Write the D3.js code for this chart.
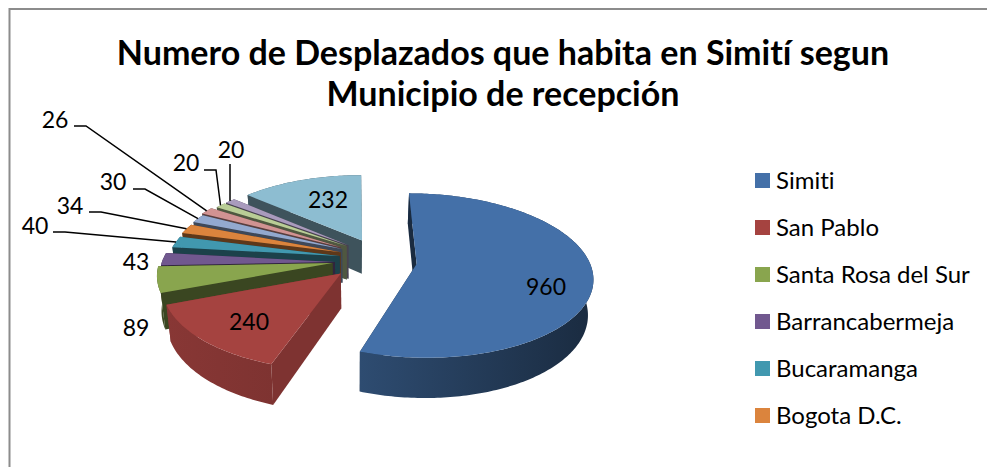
<!DOCTYPE html>
<html>
<head>
<meta charset="utf-8">
<script src="https://cdn.jsdelivr.net/npm/d3@7"></script>
<style>
    html, body { margin: 0; padding: 0; background: #fff; }
    svg { display: block; }
    text { font-family: Lato, "Noto Sans", sans-serif; fill: #000; font-variant-ligatures: none; }
</style>
</head>
<body>
<div id="map"></div>
<script>
var titleLines = ["Numero de Desplazados que habita en Simití segun", "Municipio de recepción"];
var categories = ["Simiti", "San Pablo", "Santa Rosa del Sur", "Barrancabermeja", "Bucaramanga", "Bogota D.C."];
var values = [960, 240, 89, 43, 40, 34, 30, 26, 20, 20, 232];
var colors = ["#4470a8", "#a54340", "#89a54e", "#71588f", "#4198af", "#db843d", "#93a9cf", "#d19392", "#b9cd96", "#a99bbd", "#8dbdd1"];

// how far each slice is pulled out of the pie, in pie radii
var explodeU = [0.355, -0.08, -0.13, -0.116, -0.09, -0.085, -0.076, -0.083, -0.05, -0.04, 0.042];
var explodeV = [-0.025, -0.14, -0.0125, 0, 0.075, 0.125, 0.165, 0.19, 0.205, 0.215, 0.28];

// shade of the cut walls and of the rim (dark end, light end), d3 darker() steps
var wallShade = [2.7, 0.75, 2.4, 2.4, 2.4, 2.4, 2.4, 2.4, 2.4, 2.4, 2.3];
var rimDark = [2.7, 0.75, 2.4, 2.4, 2.2, 2.2, 2.2, 2.2, 2.2, 2.2, 2.3];
var rimLight = [1.1, 0.55, 2.0, 2.0, 1.8, 1.8, 1.8, 1.8, 1.8, 1.8, 2.0];

// label placement, same order as values
var labelX = [546, 249, 136, 136, 35, 70, 113, 55, 186, 231, 328];
var labelY = [286, 321, 327, 261, 225, 205, 181, 119, 162, 149, 199];
var leaderX = [null, null, null, null, 53, 89, 133, 74, 204, 230, null];
var leaderY = [null, null, null, null, 232, 212, 189, 126, 170, 164, null];

var width = 987, height = 467,
    cx = 355, cy = 262,
    radius = 173, tilt = 80, persp = 0.14,
    depth = 34.5, shrink = 0.977;

var svg = d3.select("#map").append("svg").attr("width", width).attr("height", height);
var defs = svg.append("defs");

// chart frame, only top and left show in the crop
svg.append("path")
    .attr("d", "M9.5," + height + "V9H" + width)
    .attr("fill", "none")
    .attr("stroke", "#8c8c8c")
    .attr("stroke-width", 2);

var slices = d3.pie().sort(null).startAngle(0).endAngle(2 * Math.PI)(values);

function project(u, v) {
    var s = 1 / (1 + persp * v);
    return [cx + u * radius * s, cy - v * tilt * s, s];
}

function topPoint(d, a, r) {
    return project(explodeU[d.index] + r * Math.sin(a), explodeV[d.index] + r * Math.cos(a));
}

function lower(p) {
    return [cx + (p[0] - cx) * shrink, p[1] + depth * p[2]];
}

function arcPoints(d) {
    var n = Math.max(2, Math.ceil((d.endAngle - d.startAngle) * 60));
    return d3.range(n + 1).map(function (i) {
        return topPoint(d, d.startAngle + (d.endAngle - d.startAngle) * i / n, 1);
    });
}

var line = d3.line().curve(d3.curveLinear);

function wall(a, b) {
    return line([a, b, lower(b), lower(a)]) + "Z";
}

// back to front, blue and red last
var order = [10, 9, 8, 7, 6, 5, 4, 3, 2, 1, 0];

var groups = svg.selectAll("g.slice")
    .data(order.map(function (i) { return slices[i]; }))
    .enter()
    .append("g")
    .attr("class", "slice");

groups.each(function (d) {
    var g = d3.select(this),
        c = colors[d.index],
        tip = topPoint(d, 0, 0),
        pts = arcPoints(d),
        gradId = "side" + d.index,
        grad = defs.append("linearGradient").attr("id", gradId).attr("x1", "100%").attr("x2", "0%");

    grad.append("stop").attr("offset", "0%").attr("stop-color", d3.color(c).darker(rimDark[d.index]));
    grad.append("stop").attr("offset", "100%").attr("stop-color", d3.color(c).darker(rimLight[d.index]));

    // end cut faces away so it goes under the rim, start cut over it, top face last
    g.append("path").attr("d", wall(tip, pts[pts.length - 1])).attr("fill", d3.color(c).darker(wallShade[d.index]));
    g.append("path")
        .attr("d", line(pts.concat(pts.map(lower).reverse())) + "Z")
        .attr("fill", "url(#" + gradId + ")");
    g.append("path").attr("d", wall(tip, pts[0])).attr("fill", d3.color(c).darker(wallShade[d.index]));
    g.append("path")
        .attr("d", line([tip].concat(pts)) + "Z")
        .attr("fill", c);
});

// leader lines run from the elbow to the rim of the slice
svg.selectAll("path.leader")
    .data(slices.filter(function (d) { return leaderX[d.index] !== null; }))
    .enter()
    .append("path")
    .attr("class", "leader")
    .attr("fill", "none")
    .attr("stroke", "#000")
    .attr("stroke-width", 1.5)
    .attr("d", function (d) {
        var end = topPoint(d, (d.startAngle + d.endAngle) / 2, 1),
            x = leaderX[d.index], y = leaderY[d.index];
        if (d.index === 9) {
            return line([[x, y], [x, end[1]]]);
        }
        return line([[x, y], [x + 12, y], end]);
    });

svg.selectAll("text.value")
    .data(slices)
    .enter()
    .append("text")
    .attr("class", "value")
    .attr("x", function (d) { return labelX[d.index]; })
    .attr("y", function (d) { return labelY[d.index]; })
    .attr("text-anchor", "middle")
    .attr("dominant-baseline", "central")
    .attr("font-size", 23)
    .text(function (d) { return d.data; });

svg.selectAll("text.title")
    .data(titleLines)
    .enter()
    .append("text")
    .attr("class", "title")
    .attr("x", 503)
    .attr("y", function (d, i) { return 65 + i * 41; })
    .attr("text-anchor", "middle")
    .attr("font-size", 34)
    .attr("font-weight", 700)
    .text(function (d) { return d; });

var legendY = d3.scalePoint().domain(categories).range([180.5, 415.5]);

var legend = svg.selectAll("g.legend")
    .data(categories)
    .enter()
    .append("g")
    .attr("class", "legend")
    .attr("transform", function (d) { return "translate(755," + legendY(d) + ")"; });

legend.append("rect")
    .attr("y", -7.5)
    .attr("width", 15)
    .attr("height", 15)
    .attr("fill", function (d, i) { return colors[i]; });

legend.append("text")
    .attr("x", 21)
    .attr("y", -1)
    .attr("dominant-baseline", "central")
    .attr("font-size", 24)
    .text(function (d) { return d; });
</script>
</body>
</html>
